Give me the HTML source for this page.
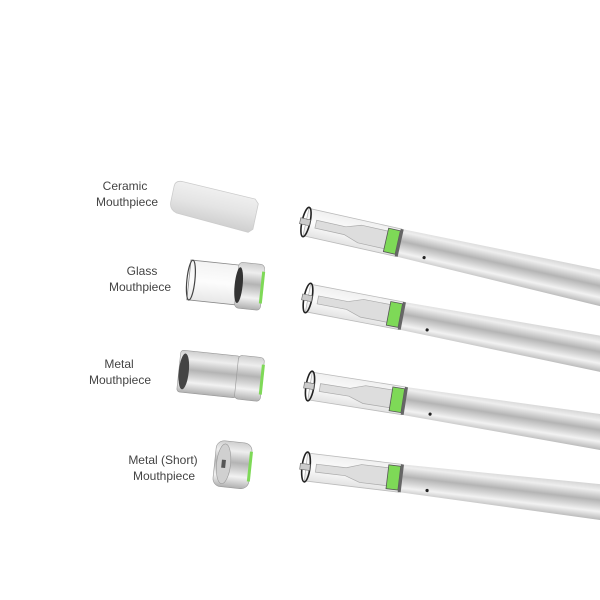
<!DOCTYPE html>
<html><head><style>
body{margin:0;background:#fff;}
svg{display:block;font-family:"Liberation Sans",sans-serif;}
</style></head><body>
<svg width="600" height="600" viewBox="0 0 600 600" xmlns="http://www.w3.org/2000/svg">
<defs>
<linearGradient id="met" x1="0" y1="0" x2="0" y2="1">
<stop offset="0" stop-color="#cfcfcf"/><stop offset="0.2" stop-color="#eeeeee"/><stop offset="0.45" stop-color="#b4b4b4"/><stop offset="0.62" stop-color="#d6d6d6"/><stop offset="0.75" stop-color="#f2f2f2"/><stop offset="1" stop-color="#b0b0b0"/>
</linearGradient>
<linearGradient id="gl" x1="0" y1="0" x2="0" y2="1">
<stop offset="0" stop-color="#e6e6e6"/><stop offset="0.5" stop-color="#fafafa"/><stop offset="1" stop-color="#d0d0d0"/>
</linearGradient>
<linearGradient id="cer" x1="0" y1="0" x2="0" y2="1">
<stop offset="0" stop-color="#f0f0f0"/><stop offset="0.5" stop-color="#e4e4e4"/><stop offset="1" stop-color="#cfcfcf"/>
</linearGradient>
<g id="pen">
<path d="M95 -14 L360 -19 L360 19 L95 14 Z" fill="url(#met)"/>
<rect x="0" y="-14" width="95" height="28" fill="url(#gl)" fill-opacity="0.6" stroke="#bbb" stroke-width="0.8"/>
<path d="M10 -4 L40 -4 L55 -9 L90 -9 L90 9 L55 9 L40 4 L10 4 Z" fill="#ddd" stroke="#aaa" stroke-width="0.7"/>
<rect x="82" y="-12" width="12" height="24" fill="#7ed957" stroke="#555" stroke-width="0.8"/>
<rect x="94" y="-14" width="3" height="28" fill="#666"/>
<ellipse cx="0" cy="0" rx="4" ry="15" fill="none" stroke="#222" stroke-width="1.6"/>
<rect x="-6" y="-3" width="10" height="6" fill="#ccc" stroke="#666" stroke-width="0.6"/>
<circle cx="123" cy="9" r="1.6" fill="#222"/>
</g>
</defs>
<use href="#pen" transform="translate(306,222) rotate(12.6)"/>
<use href="#pen" transform="translate(308,298) rotate(10.8)"/>
<use href="#pen" transform="translate(310,386) rotate(9)"/>
<use href="#pen" transform="translate(306,467) rotate(6.8)"/>

<!-- ceramic -->
<g transform="translate(175,182) rotate(12)">
<path d="M0 4 Q0 -2 8 -2 L82 0 L86 4 L86 30 L82 34 L8 30 Q0 28 0 20 Z" fill="url(#cer)" stroke="#ccc" stroke-width="0.8"/>
</g>
<!-- glass -->
<g transform="translate(191,260) rotate(6)">
<rect x="0" y="0" width="52" height="40" fill="url(#gl)" fill-opacity="0.5" stroke="#888" stroke-width="0.8"/>
<ellipse cx="2" cy="20" rx="4" ry="20" fill="none" stroke="#444" stroke-width="1.2"/>
<rect x="48" y="-3" width="26" height="46" rx="4" fill="url(#met)" stroke="#999" stroke-width="0.6"/>
<ellipse cx="50" cy="20" rx="4" ry="18" fill="#333"/>
<rect x="72" y="4" width="3" height="32" fill="#7ed957"/>
</g>
<!-- metal -->
<g transform="translate(181,350) rotate(6)">
<rect x="0" y="0" width="60" height="42" rx="3" fill="url(#met)" stroke="#999" stroke-width="0.6"/>
<ellipse cx="5" cy="21" rx="5" ry="18" fill="#444"/>
<rect x="58" y="-1" width="26" height="44" rx="4" fill="url(#met)" stroke="#999" stroke-width="0.6"/>
<rect x="82" y="6" width="3" height="30" fill="#7ed957"/>
</g>
<!-- short -->
<g transform="translate(217,440) rotate(6)">
<rect x="0" y="0" width="36" height="46" rx="8" fill="url(#met)" stroke="#999" stroke-width="0.6"/>
<ellipse cx="9" cy="23" rx="7" ry="20" fill="#d0d0d0" stroke="#999" stroke-width="0.6"/>
<rect x="7" y="19" width="4" height="8" fill="#555"/>
<rect x="34" y="8" width="3" height="30" fill="#7ed957"/>
</g>

<g font-size="12" fill="#444" text-anchor="middle">
<text x="125" y="190">Ceramic</text><text x="127" y="206">Mouthpiece</text>
<text x="142" y="275">Glass</text><text x="140" y="291">Mouthpiece</text>
<text x="119" y="368">Metal</text><text x="120" y="384">Mouthpiece</text>
<text x="163" y="464">Metal (Short)</text><text x="164" y="480">Mouthpiece</text>
</g>
</svg>
</body></html>
